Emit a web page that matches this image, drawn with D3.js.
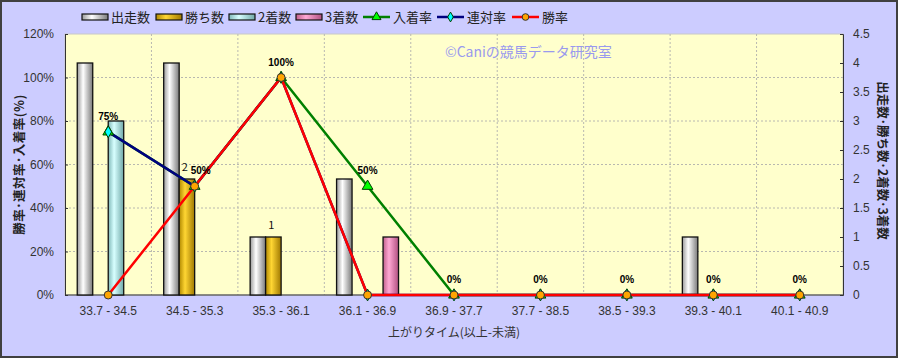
<!DOCTYPE html>
<html lang="ja">
<head>
<meta charset="UTF-8">
<title>上がりタイム別成績</title>
<style>
	body{margin:0;padding:0;background:#fff;}
	svg{display:block;}
	text{font-family:"Noto Sans CJK JP","Liberation Sans",sans-serif;}
	.tick-label{font-family:"Liberation Sans",Arial,sans-serif;font-size:12px;fill:#333;}
	.val{font-family:"Liberation Sans",Arial,sans-serif;font-size:10px;font-weight:bold;fill:#000;}
	.grid{stroke:#b8b8b0;stroke-dasharray:2,2;stroke-width:1;}
</style>
</head>
<body>
<svg width="898" height="358"></svg>
<script src="https://cdn.jsdelivr.net/npm/d3@7/dist/d3.min.js"></script>
<script>
// カテゴリ（上がりタイム）
var categories = ["33.7 - 34.5","34.5 - 35.3","35.3 - 36.1","36.1 - 36.9","36.9 - 37.7","37.7 - 38.5","38.5 - 39.3","39.3 - 40.1","40.1 - 40.9"];
// 件数（右軸）
var starts  = [4,4,1,2,0,0,0,1,0];
var wins    = [0,2,1,0,0,0,0,0,0];
var seconds = [3,0,0,0,0,0,0,0,0];
var thirds  = [0,0,0,1,0,0,0,0,0];
// 率（左軸, %）
var placeRate  = [75,50,100,50,0,0,0,0,0];
var rentaiRate = [75,50,100,0,0,0,0,0,0];
var winRate    = [0,50,100,0,0,0,0,0,0];
// 目盛
var leftTicks  = [0,20,40,60,80,100,120];
var rightTicks = [0,0.5,1,1.5,2,2.5,3,3.5,4,4.5];

var svg = d3.select("svg"),
	W = +svg.attr("width"), H = +svg.attr("height"),
	plot = {left:65, right:843, top:34, bottom:295};

// 背景
svg.append("rect").attr("x",1).attr("y",1).attr("width",W-2).attr("height",H-2)
	.attr("fill","#CCCCFF").attr("stroke","#404040").attr("stroke-width",2);
svg.append("rect").attr("x",plot.left).attr("y",plot.top)
	.attr("width",plot.right-plot.left).attr("height",plot.bottom-plot.top)
	.attr("fill","#FFFFCC").attr("stroke","#c8c8c8").attr("stroke-width",1);

var x = d3.scaleBand().domain(categories).range([plot.left,plot.right]).padding(0);
var seriesNames = ["出走数","勝ち数","2着数","3着数"];
var x1 = d3.scaleBand().domain(seriesNames).range([0,x.bandwidth()]).paddingInner(0).paddingOuter(0.79);
var yL = d3.scaleLinear().domain([0,120]).range([plot.bottom,plot.top]);
var yR = d3.scaleLinear().domain([0,4.5]).range([plot.bottom,plot.top]);

// グラデーション
var defs = svg.append("defs");
var barColors = {
	"出走数":["#9a9a9a","#ffffff","#7a7a7a"],
	"勝ち数":["#b08800","#ffd633","#a07800"],
	"2着数":["#80b8b8","#d8ffff","#70a8a8"],
	"3着数":["#c0608c","#ffa8d4","#b05080"]
};
seriesNames.forEach(function(s,i){
	var g = defs.append("linearGradient").attr("id","grad"+i).attr("x1","0%").attr("x2","100%");
	g.append("stop").attr("offset","0%").attr("stop-color",barColors[s][0]);
	g.append("stop").attr("offset","38%").attr("stop-color",barColors[s][1]);
	g.append("stop").attr("offset","100%").attr("stop-color",barColors[s][2]);
});

// グリッド
var gGrid = svg.append("g");
leftTicks.slice(1,-1).forEach(function(t){
	gGrid.append("line").attr("class","grid")
		.attr("x1",plot.left).attr("x2",plot.right).attr("y1",yL(t)).attr("y2",yL(t));
});
categories.slice(1).forEach(function(c){
	gGrid.append("line").attr("class","grid")
		.attr("x1",x(c)).attr("x2",x(c)).attr("y1",plot.top).attr("y2",plot.bottom);
});

// 軸
var axL = svg.append("g").attr("transform","translate("+plot.left+",0)")
	.call(d3.axisRight(yL).tickValues(leftTicks).tickSize(3).tickFormat(""));
axL.select(".domain").attr("stroke","#333");
axL.selectAll(".tick line").attr("stroke","#333");
var axR = svg.append("g").attr("transform","translate("+plot.right+",0)")
	.call(d3.axisLeft(yR).tickValues(rightTicks).tickSize(3).tickFormat(""));
axR.select(".domain").attr("stroke","#333");
axR.selectAll(".tick line").attr("stroke","#333");
svg.append("line").attr("x1",plot.left).attr("x2",plot.right)
	.attr("y1",plot.bottom).attr("y2",plot.bottom).attr("stroke","#333");

svg.append("g").selectAll("text").data(leftTicks).enter().append("text")
	.attr("class","tick-label").attr("x",plot.left-11).attr("y",function(d){return yL(d)+4;})
	.attr("text-anchor","end").text(function(d){return d+"%";});
svg.append("g").selectAll("text").data(rightTicks).enter().append("text")
	.attr("class","tick-label").attr("x",plot.right+10).attr("y",function(d){return yR(d)+4;})
	.text(function(d){return d;});
svg.append("g").selectAll("text").data(categories).enter().append("text")
	.attr("class","tick-label").attr("x",function(d){return x(d)+x.bandwidth()/2;})
	.attr("y",plot.bottom+20).attr("text-anchor","middle").text(function(d){return d;});

// 軸タイトル
svg.append("text").attr("transform","translate(24,"+((plot.top+plot.bottom)/2)+") rotate(-90)")
	.attr("text-anchor","middle").attr("font-size",12.5).attr("font-weight","bold").attr("fill","#222")
	.attr("letter-spacing",0.5)
	.text("勝率･連対率･入着率(%)");
svg.append("text").attr("transform","translate(878,"+((plot.top+plot.bottom)/2-4)+") rotate(90)")
	.attr("text-anchor","middle").attr("font-size",12.5).attr("font-weight","bold").attr("fill","#222")
	.text("出走数･勝ち数･2着数･3着数");
svg.append("text").attr("x",(plot.left+plot.right)/2).attr("y",337)
	.attr("text-anchor","middle").attr("font-size",12).attr("fill","#333")
	.text("上がりタイム(以上-未満)");

// 著作権表示
svg.append("text").attr("x",445).attr("y",57).attr("font-size",14).attr("fill","#9999EE")
	.text("©Caniの競馬データ研究室");

// 棒
var barData = [starts,wins,seconds,thirds];
var gBars = svg.append("g");
seriesNames.forEach(function(s,i){
	gBars.selectAll(".b"+i).data(barData[i].map(function(v,j){return {c:categories[j],v:v};}))
		.enter().filter(function(d){return d.v>0;})
		.append("rect")
		.attr("x",function(d){return x(d.c)+x1(s);})
		.attr("y",function(d){return yR(d.v);})
		.attr("width",x1.bandwidth())
		.attr("height",function(d){return yR(0)-yR(d.v);})
		.attr("fill","url(#grad"+i+")")
		.attr("stroke","#111").attr("stroke-width",1.3);
});
// 勝ち数ラベル
svg.append("g").selectAll("text").data(wins.map(function(v,j){return {c:categories[j],v:v};}).filter(function(d){return d.v>0;}))
	.enter().append("text")
	.attr("x",function(d){return x(d.c)+x1("勝ち数")+x1.bandwidth()/2 - 2;})
	.attr("y",function(d){return yR(d.v)-8;})
	.attr("text-anchor","middle").attr("font-family","Liberation Sans, Arial").attr("font-size",11).attr("fill","#111")
	.text(function(d){return d.v;});

// 折れ線
var cx = function(j){return x(categories[j])+x.bandwidth()/2;};
var lineGen = d3.line().x(function(d,j){return cx(j);}).y(function(d){return yL(d);});
var lines = [
	{v:placeRate, color:"#008000", fill:"#00FF00", marker:d3.symbolTriangle, size:50},
	{v:rentaiRate, color:"#000080", fill:"#00FFFF", marker:d3.symbolDiamond, size:40},
	{v:winRate, color:"#FF0000", fill:"#FFA500", marker:d3.symbolCircle, size:50}
];
lines.forEach(function(l){
	svg.append("path").datum(l.v).attr("d",lineGen)
		.attr("fill","none").attr("stroke",l.color).attr("stroke-width",2.5);
});
lines.forEach(function(l){
	svg.append("g").selectAll("path").data(l.v).enter().append("path")
		.attr("transform",function(d,j){return "translate("+cx(j)+","+yL(d)+")";})
		.attr("d",d3.symbol().type(l.marker).size(l.size))
		.attr("fill",l.fill).attr("stroke",l.color==="#FF0000"?"#333":"#004000").attr("stroke-width",1);
});
// 入着率ラベル
svg.append("g").selectAll("text").data(placeRate).enter().append("text")
	.attr("class","val").attr("x",function(d,j){return cx(j)+(j===1?6:0);})
	.attr("y",function(d){return yL(d)-12;})
	.attr("text-anchor","middle").text(function(d){return d+"%";});

// 凡例
var legend = [
	{name:"出走数",type:"bar",i:0,x:82},
	{name:"勝ち数",type:"bar",i:1,x:156},
	{name:"2着数",type:"bar",i:2,x:229},
	{name:"3着数",type:"bar",i:3,x:296},
	{name:"入着率",type:"line",l:0,x:363},
	{name:"連対率",type:"line",l:1,x:437},
	{name:"勝率",type:"line",l:2,x:512}
];
var gLeg = svg.append("g");
legend.forEach(function(d){
	if(d.type==="bar"){
		gLeg.append("rect").attr("x",d.x).attr("y",14).attr("width",26).attr("height",6)
			.attr("fill","url(#grad"+d.i+")").attr("stroke","#111").attr("stroke-width",1.2);
	}else{
		var l = lines[d.l];
		gLeg.append("line").attr("x1",d.x).attr("x2",d.x+27).attr("y1",17).attr("y2",17)
			.attr("stroke",l.color).attr("stroke-width",2.5);
		gLeg.append("path").attr("transform","translate("+(d.x+13.5)+",17)")
			.attr("d",d3.symbol().type(l.marker).size(l.size*0.7))
			.attr("fill",l.fill).attr("stroke",l.color==="#FF0000"?"#333":"#004000").attr("stroke-width",1);
	}
	gLeg.append("text").attr("x",d.x+(d.type==="bar"?29:30)).attr("y",22)
		.attr("font-size",13).attr("fill","#222").text(d.name);
});
</script>
</body>
</html>
